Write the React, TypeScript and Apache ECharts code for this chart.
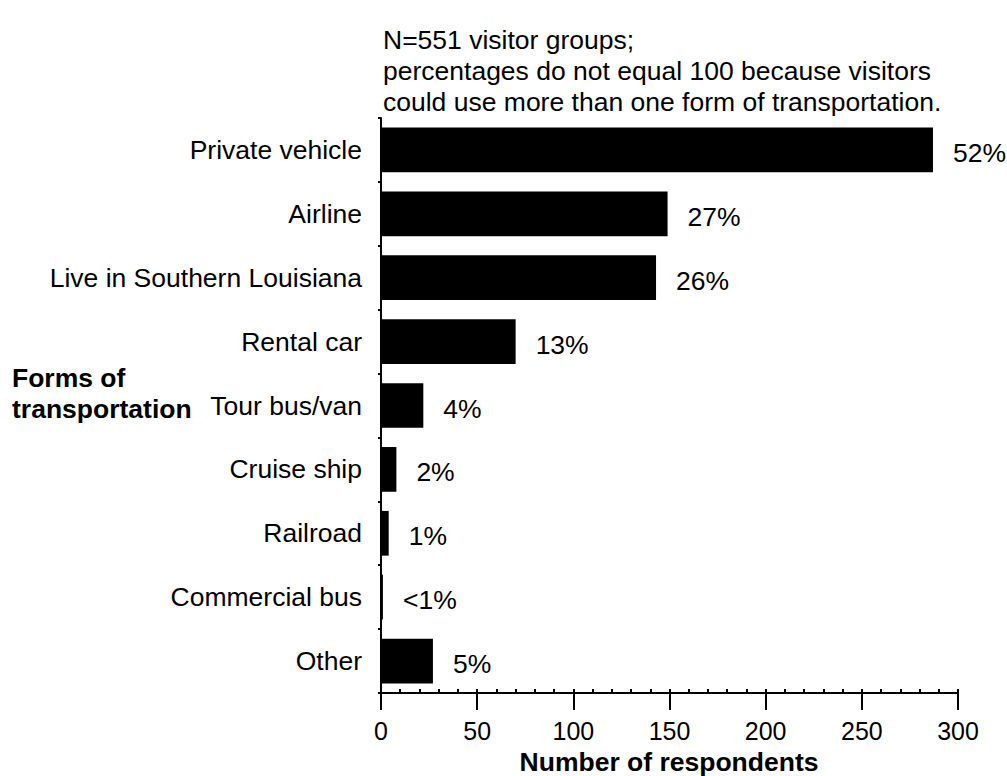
import React, { useEffect, useRef } from "react";
import * as echarts from "echarts";

const categories = [
  "Private vehicle",
  "Airline",
  "Live in Southern Louisiana",
  "Rental car",
  "Tour bus/van",
  "Cruise ship",
  "Railroad",
  "Commercial bus",
  "Other",
];
const respondents = [287, 149, 143, 70, 22, 8, 4, 1, 27];
const percentLabels = ["52%", "27%", "26%", "13%", "4%", "2%", "1%", "<1%", "5%"];
const xTicks = [0, 50, 100, 150, 200, 250, 300];

const noteLines = [
  "N=551 visitor groups;",
  "percentages do not equal 100 because visitors",
  "could use more than one form of transportation.",
];
const yAxisTitleLines = ["Forms of", "transportation"];
const xAxisTitle = "Number of respondents";

const FONT = "'Liberation Sans', Arial, Helvetica, sans-serif";
const FS = 26.5;

export default function App() {
  const ref = useRef<HTMLDivElement>(null);
  useEffect(() => {
    if (!ref.current) return;
    const chart = echarts.init(ref.current, null, { renderer: "svg" });
    chart.setOption({
      animation: false,
      backgroundColor: "#ffffff",
      textStyle: { fontFamily: FONT, color: "#000" },
      grid: { left: 381, right: 49, top: 118, bottom: 83, containLabel: false },
      xAxis: [
        {
          type: "value",
          min: xTicks[0],
          max: xTicks[xTicks.length - 1],
          interval: 50,
          position: "bottom",
          axisLine: { show: true, lineStyle: { color: "#000", width: 2 } },
          axisTick: { show: true, length: 17, lineStyle: { color: "#000", width: 2 } },
          axisLabel: { show: true, fontSize: 25, color: "#000", margin: 25, fontFamily: FONT },
          splitLine: { show: false },
        },
        {
          type: "value",
          min: 0,
          max: 300,
          interval: 10,
          position: "bottom",
          axisLine: { show: false },
          axisTick: { show: true, inside: true, length: 4, lineStyle: { color: "#000", width: 2 } },
          axisLabel: { show: false },
          splitLine: { show: false },
        },
      ],
      yAxis: {
        type: "category",
        data: categories,
        inverse: true,
        axisLine: { show: true, lineStyle: { color: "#000", width: 2 } },
        axisTick: { show: true, length: 3, lineStyle: { color: "#000", width: 2 } },
        axisLabel: { fontSize: FS, color: "#000", margin: 19, fontFamily: FONT },
        splitLine: { show: false },
      },
      series: [
        {
          type: "bar",
          xAxisIndex: 0,
          data: respondents,
          barCategoryGap: "30%",
          itemStyle: { color: "#000" },
          label: {
            show: true,
            position: "right",
            distance: 20,
            offset: [0, 3],
            fontSize: FS,
            color: "#000",
            fontFamily: FONT,
            formatter: (p: any) => percentLabels[p.dataIndex],
          },
        },
      ],
      graphic: [
        ...noteLines.map((t, i) => ({
          type: "text",
          x: 383,
          y: 40 + i * 31,
          style: { text: t, font: `${FS}px ${FONT}`, fill: "#000", verticalAlign: "middle" },
        })),
        ...yAxisTitleLines.map((t, i) => ({
          type: "text",
          x: 12,
          y: 378 + i * 31,
          style: { text: t, font: `bold ${FS}px ${FONT}`, fill: "#000", verticalAlign: "middle" },
        })),
        {
          type: "text",
          x: 669,
          y: 762,
          style: {
            text: xAxisTitle,
            font: `bold ${FS}px ${FONT}`,
            fill: "#000",
            align: "center",
            verticalAlign: "middle",
          },
        },
      ],
    });
    return () => chart.dispose();
  }, []);
  return (
    <div
      ref={ref}
      style={{ position: "fixed", left: 0, top: 0, width: 1007, height: 776 }}
    />
  );
}
